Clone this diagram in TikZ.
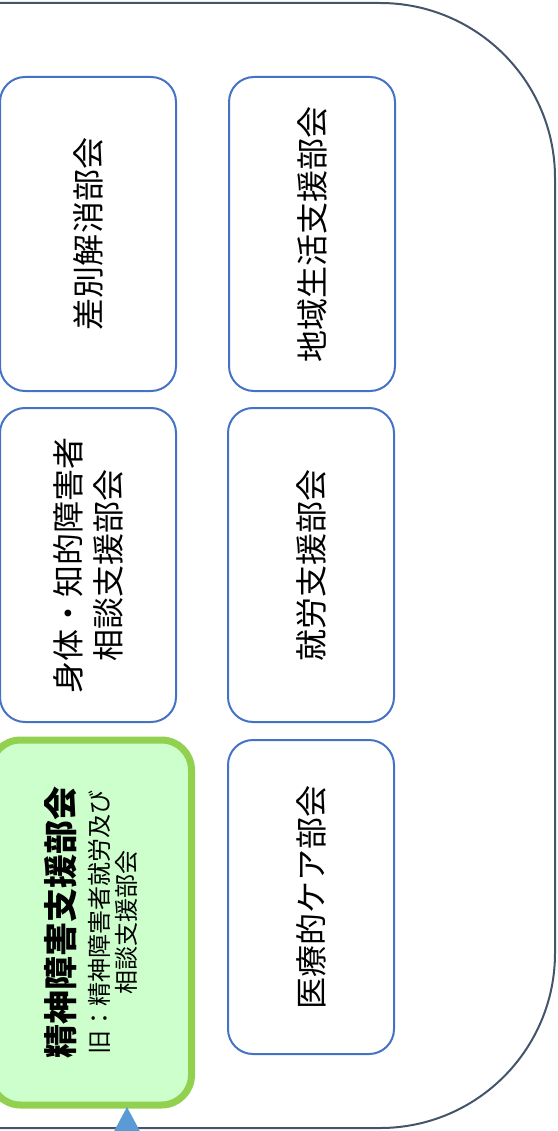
\documentclass[tikz,border=0pt]{standalone}
\usepackage{fontspec}
\newfontfamily\jp{Noto Sans CJK JP}
\usetikzlibrary{positioning}
\definecolor{boxblue}{HTML}{4472C4}
\definecolor{framegray}{HTML}{44546A}
\definecolor{seishinline}{HTML}{92D050}
\definecolor{seishinfill}{HTML}{CCFFCC}
\definecolor{arrowblue}{HTML}{5B9BD5}

\begin{document}
\begin{tikzpicture}[x=1pt,y=-1pt]
		\tikzstyle{bukai}=[rectangle, rotate=90, draw=boxblue, line width=2pt, rounded corners=25pt, minimum width=314pt, minimum height=166pt, inner sep=0pt, align=center, font=\jp\fontsize{32}{40}\selectfont]
		\tikzstyle{bukai wide}=[bukai, minimum height=176pt]
		\tikzstyle{bukai main}=[bukai, draw=seishinline, fill=seishinfill, line width=7pt, rounded corners=30pt, minimum width=365pt, minimum height=201pt, font=\jp\fontsize{24}{27}\selectfont]

		\useasboundingbox (0,0) rectangle (557,1131);
		\clip (0,0) rectangle (557,1131);

		\draw[framegray, line width=2pt, rounded corners=175pt] (-300,3) rectangle (555,1128);

		\node [bukai wide] (sabetsu) at (88,234) {差別解消部会};
		\node [bukai] (chiiki) at (312,234) {地域生活支援部会};
		\node [bukai wide] (shintai) at (88,565) {身体・知的障害者\\相談支援部会};
		\node [bukai] (shuro) at (311,565) {就労支援部会};
		\node [bukai main] (seishin) at (91,922.5) {{\fontsize{34}{38}\selectfont\bfseries 精神障害支援部会}\\[8pt]旧：精神障害者就労及び\\相談支援部会};
		\node [bukai] (iryo) at (311,897) {医療的ケア部会};

		\coordinate (tip) at (127,1107);
		\fill [arrowblue] (tip) -- ++(15,28) -- ++(-30,0) -- cycle;
	\end{tikzpicture}
\end{document}
